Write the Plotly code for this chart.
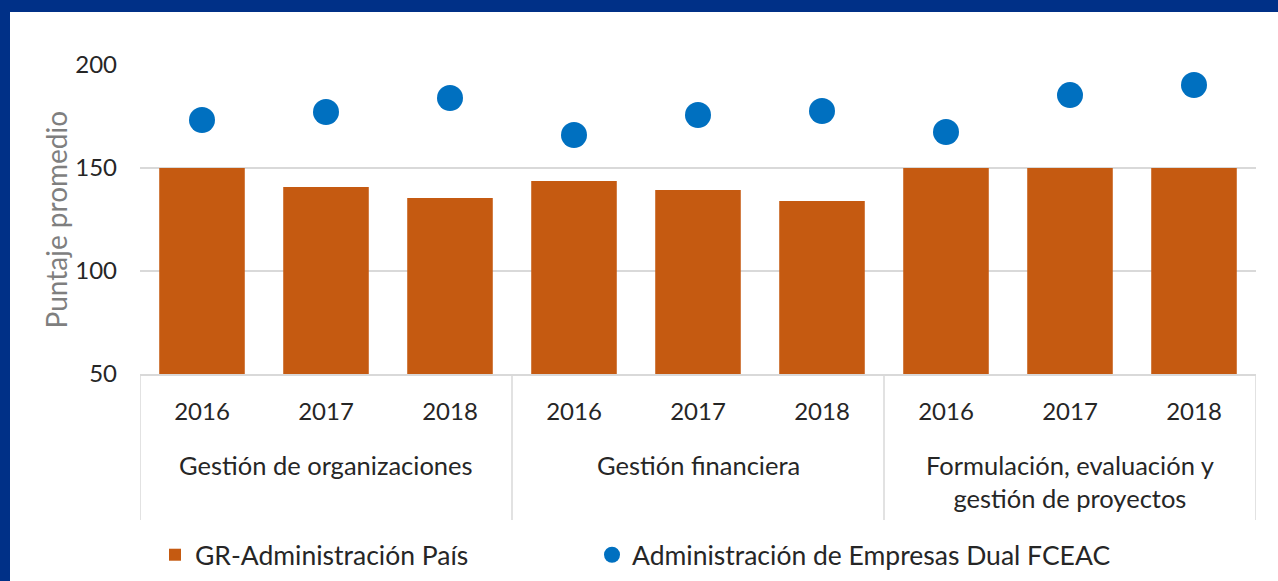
import plotly.graph_objects as go

groups = ["Gestión de organizaciones", "Gestión financiera",
          "Formulación, evaluación y<br>gestión de proyectos"]
years = ["2016", "2017", "2018"]
pais = [150, 140.8, 135.4, 143.7, 139.3, 134.0, 150, 150, 150]
dual = [173.3, 177.2, 184.0, 166.0, 175.7, 177.7, 167.5, 185.4, 190.3]
name_pais = "GR-Administración País"
name_dual = "Administración de Empresas Dual FCEAC"

FONT = "Lato"
TXT = "#262626"
GRID = "#D9D9D9"

xs = list(range(len(groups) * len(years)))
ticktext = [y for g in groups for y in years]

fig = go.Figure()
fig.add_trace(go.Bar(x=xs, y=pais, name=name_pais, marker_color="#C55A11",
                     marker_line_width=0, width=0.69, legend="legend"))
fig.add_trace(go.Scatter(x=xs, y=dual, name=name_dual, mode="markers",
                         marker=dict(color="#0070C0", size=26), legend="legend2"))

L, R, T, B = 140, 22, 65, 207
W, H = 1278, 581
pw, ph = W - L - R, H - T - B

def px_x(px):
    return (px - L) / pw

def px_y(py):
    return (H - B - py) / ph

shapes = [dict(type="rect", xref="paper", yref="paper", layer="below",
               x0=px_x(10), x1=px_x(W + 5), y0=px_y(H + 5), y1=px_y(12),
               fillcolor="white", line_width=0)]
for k in range(len(groups) + 1):
    xv = k * len(years) - 0.5
    shapes.append(dict(type="line", xref="x", yref="paper", x0=xv, x1=xv,
                       y0=0, y1=px_y(520), line=dict(color=GRID, width=1.5)))

annotations = []
for i, g in enumerate(groups):
    annotations.append(dict(text=g, xref="x", yref="paper",
                            x=i * len(years) + 1, y=px_y(448), yanchor="top",
                            showarrow=False, align="center",
                            font=dict(family=FONT, size=25.5, color=TXT)))
annotations.append(dict(text="Puntaje promedio", xref="paper", yref="paper",
                        x=px_x(55), y=0.5, textangle=-90, showarrow=False,
                        xanchor="center", yanchor="middle",
                        font=dict(family=FONT, size=28, color="#7F7F7F")))

legend_common = dict(orientation="h", xanchor="left", yanchor="middle",
                     y=px_y(555), font=dict(family=FONT, size=26.5, color=TXT),
                     bgcolor="rgba(0,0,0,0)", itemsizing="trace")

fig.update_layout(
    width=W, height=H,
    margin=dict(l=L, r=R, t=T, b=B, autoexpand=False),
    paper_bgcolor="#003087", plot_bgcolor="white",
    font=dict(family=FONT, size=25, color=TXT),
    bargap=0.31,
    shapes=shapes, annotations=annotations,
    showlegend=True,
    legend=dict(x=px_x(155), **legend_common),
    legend2=dict(x=px_x(592), **legend_common),
    xaxis=dict(tickmode="array", tickvals=xs, ticktext=ticktext,
               range=[-0.5, len(xs) - 0.5], showgrid=False, ticks="",
               showline=True, linecolor=GRID, linewidth=1.5,
               ticklabelstandoff=15, tickfont=dict(family=FONT, size=24, color=TXT),
               automargin=False, zeroline=False),
    yaxis=dict(range=[50, 200], dtick=50, showgrid=True, gridcolor=GRID,
               gridwidth=1.5, ticks="", showline=False, zeroline=False,
               ticklabelstandoff=22, tickfont=dict(family=FONT, size=24, color=TXT),
               automargin=False),
)

fig.write_html("out.html", config={"displayModeBar": False},
               post_script="document.body.style.margin='0';")
